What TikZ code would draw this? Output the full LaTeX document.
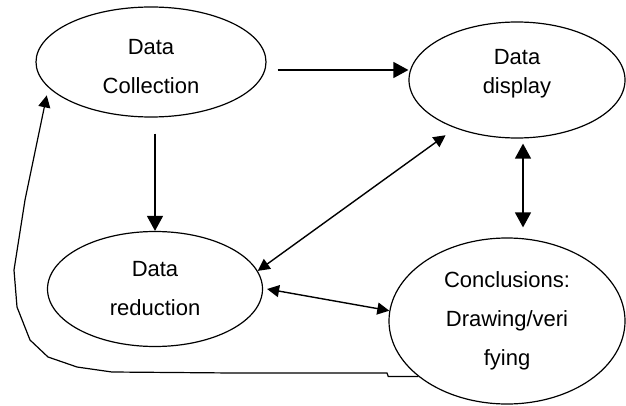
\documentclass[tikz,border=0pt]{standalone}
\usepackage{fontspec}
\setmainfont{Liberation Sans}
\usetikzlibrary{shapes.geometric, arrows.meta}
\tikzset{>={Triangle[length=15pt,width=16pt]}}
\tikzset{stage/.style={draw, ellipse, inner sep=0pt, line width=1.2pt},
    stagetext/.style={align=center, font=\fontsize{22}{39}\selectfont},
    small tip/.style={>={Triangle[length=12pt,width=12pt]}}}

\begin{document}
\begin{tikzpicture}[x=1pt, y=1pt, line width=1.4pt]
    \useasboundingbox (0,0) rectangle (626,405);
    \node[stage, minimum width=230pt, minimum height=110pt] (coll) at (151,343) {};
    \node[stage, minimum width=216pt, minimum height=116pt] (disp) at (517,325) {};
    \node[stage, minimum width=215pt, minimum height=115pt] (red) at (155,116) {};
    \node[stage, minimum width=236pt, minimum height=166pt] (conc) at (507,84) {};
    \node[stagetext] (coll-t) at ([yshift=-5pt]coll.center) {Data\\Collection};
    \node[stagetext, font=\fontsize{22}{29}\selectfont] (disp-t) at ([yshift=6pt]disp.center) {Data\\display};
    \node[stagetext] (red-t) at (red.center) {Data\\reduction};
    \node[stagetext] (conc-t) at (conc.center) {Conclusions:\\Drawing/veri\\fying};
    % arrows between the stages
    \coordinate (a1) at ([shift={(11,-8)}]coll.east);
    \draw[->] (a1) -- (a1 -| disp.west);
    \draw[->] ([yshift=-16pt]coll.south -| red.north) -- (red.north);
    \draw[<->, small tip, shorten >=12pt] (red.10) -- (disp.218);
    \draw[<->] ([shift={(6,-5)}]disp.south) -- ([shift={(16,10)}]conc.north);
    \draw[<->, small tip] ([xshift=4pt]red.east) -- (conc.175);
    % back to data collection
    \draw[->, small tip, line width=1.2pt, shorten >=8pt] (conc.212) -- ++(-30,0) -- (387,32) -- (233,32)
        -- (112,33) -- (77,38) -- (48,48) -- (30,65) -- (17,98) -- (14,135) -- (25,205) -- (coll.194);
\end{tikzpicture}
\end{document}
